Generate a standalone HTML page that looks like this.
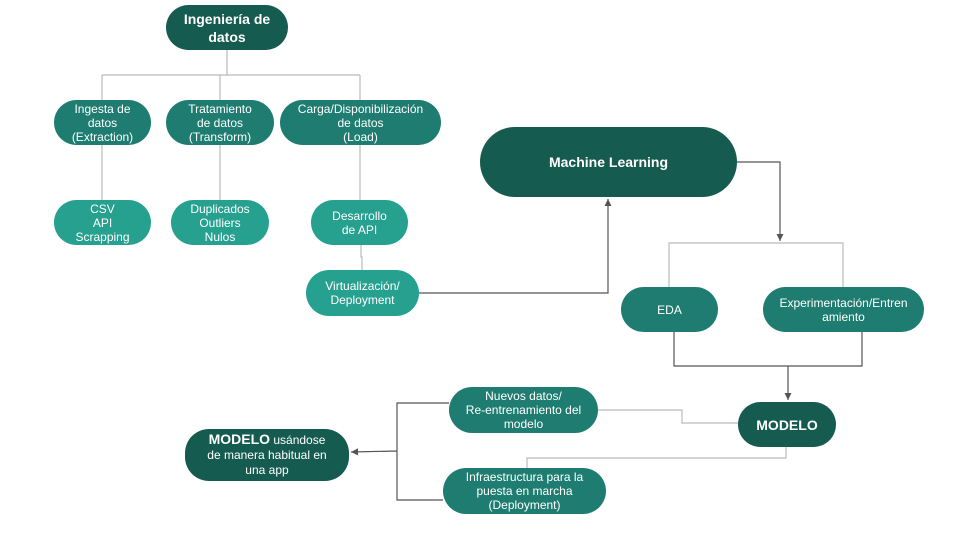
<!DOCTYPE html>
<html><head><meta charset="utf-8"><style>
body{margin:0;width:960px;height:540px;background:#fff;position:relative;overflow:hidden;font-family:"Liberation Sans",sans-serif}
.n{position:absolute;display:flex;align-items:center;justify-content:center;text-align:center;color:#fff;font-size:12px;line-height:14px;border-radius:24px;box-sizing:border-box;padding:0 4px}
.d{background:#165b50}.m{background:#1e7d70}.l{background:#26a08f}
svg{position:absolute;left:0;top:0}
</style></head><body>
<svg width="960" height="540">
<defs><marker id="a" markerWidth="8" markerHeight="8" refX="6" refY="3" orient="auto"><path d="M0,0L6,3L0,6z" fill="#555"/></marker></defs>
<g fill="none" stroke="#bbb" stroke-width="1.2">
<path d="M227,50V75M102,75H360M102,75V100M220,75V100M360,75V100"/>
<path d="M102,145V200M220,145V200M360,145V200"/>
<path d="M361,245V257H362V270"/>
<path d="M669,287V243H843V287"/>
<path d="M598,410H682V423H738"/>
<path d="M786,447V458H527V468"/>
</g>
<g fill="none" stroke="#555" stroke-width="1.2">
<path d="M419,293H608V199" marker-end="url(#a)"/>
<path d="M737,162H780V241" marker-end="url(#a)"/>
<path d="M674,332V366H862V332M788,366V400" marker-end="url(#a)"/>
<path d="M449,403H397V500H443M397,451L351,452" marker-end="url(#a)"/>
</g>
</svg>
<div class="n d" style="left:166px;top:5px;width:122px;height:45px;font-size:14px;font-weight:bold;line-height:18px">Ingeniería de<br>datos</div>
<div class="n m" style="left:54px;top:100px;width:97px;height:45px">Ingesta de<br>datos<br>(Extraction)</div>
<div class="n m" style="left:166px;top:100px;width:108px;height:45px">Tratamiento<br>de datos<br>(Transform)</div>
<div class="n m" style="left:280px;top:100px;width:161px;height:45px">Carga/Disponibilización<br>de datos<br>(Load)</div>
<div class="n l" style="left:54px;top:200px;width:97px;height:45px">CSV<br>API<br>Scrapping</div>
<div class="n l" style="left:171px;top:200px;width:98px;height:45px">Duplicados<br>Outliers<br>Nulos</div>
<div class="n l" style="left:311px;top:200px;width:97px;height:45px">Desarrollo<br>de API</div>
<div class="n l" style="left:306px;top:270px;width:113px;height:46px">Virtualización/<br>Deployment</div>
<div class="n d" style="left:480px;top:127px;width:257px;height:70px;border-radius:35px;font-size:14px;font-weight:bold">Machine Learning</div>
<div class="n m" style="left:621px;top:287px;width:97px;height:45px">EDA</div>
<div class="n m" style="left:763px;top:287px;width:161px;height:45px">Experimentación/Entren<br>amiento</div>
<div class="n d" style="left:738px;top:402px;width:98px;height:45px;font-size:14px;font-weight:bold">MODELO</div>
<div class="n m" style="left:449px;top:387px;width:149px;height:46px">Nuevos datos/<br>Re-entrenamiento del<br>modelo</div>
<div class="n m" style="left:443px;top:468px;width:163px;height:46px">Infraestructura para la<br>puesta en marcha<br>(Deployment)</div>
<div class="n d" style="left:185px;top:429px;width:164px;height:52px;line-height:15px"><span><b style="font-size:14px">MODELO</b> usándose<br>de manera habitual en<br>una app</span></div>
</body></html>
